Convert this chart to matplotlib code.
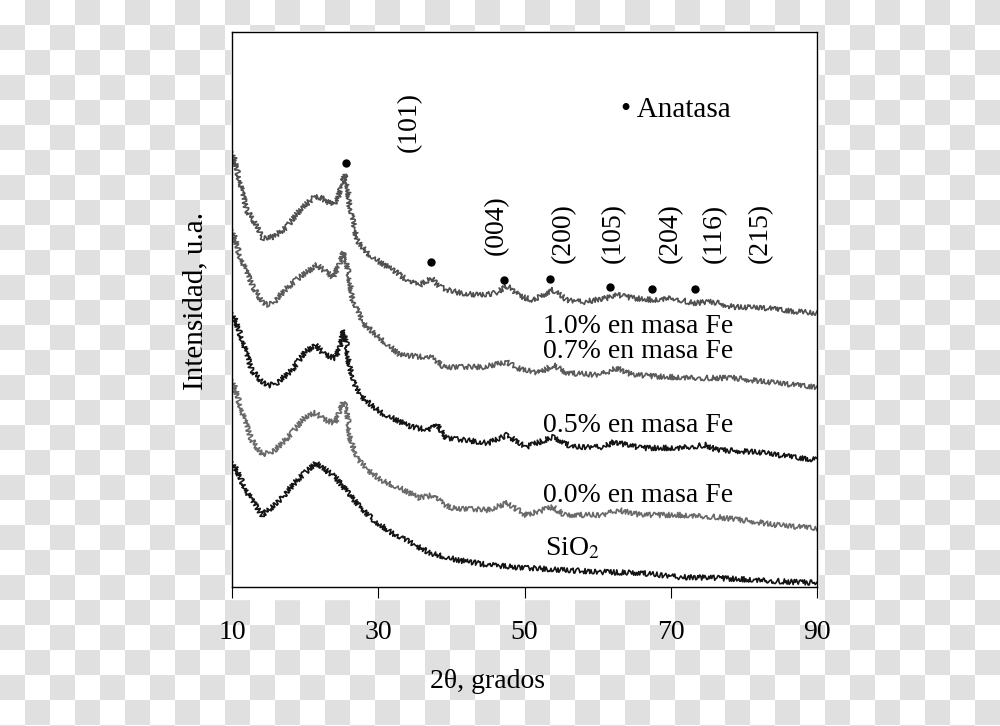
import numpy as np
import matplotlib.pyplot as plt
from matplotlib.patches import Rectangle

plt.rcParams['font.family'] = ['Liberation Serif', 'DejaVu Serif']
plt.rcParams['mathtext.fontset'] = 'stix'

fe10_x = [10.1, 12.0, 12.9, 14.2, 15.6, 17.5, 19.3, 21.1, 22.0, 23.8, 24.4, 25.0, 25.3, 25.7, 26.1,
          27.1, 28.5, 30.2, 32.0, 34.3, 35.7, 37.4, 38.2, 39.4, 41.2, 43.9, 46.2, 47.4, 48.2, 49.2,
          51.2, 53.9, 55.8, 58.0, 61.3, 62.7, 64.8, 67.6, 70.3, 73.0, 75.8, 78.5, 83.2, 87.7, 90.0]
fe10_y = [435, 377, 367, 349, 350, 360, 377, 389, 390, 382, 387, 404, 412, 407, 380,
          347, 334, 325, 317, 305, 302, 309, 301, 297, 294, 292, 294, 301, 299, 291,
          287, 297, 287, 285, 289, 292, 289, 287, 289, 284, 285, 280, 279, 275, 274]

fe07_x = [10.1, 11.1, 12.9, 14.2, 14.9, 15.6, 17.5, 19.3, 21.6, 23.8, 24.8, 25.2, 25.7, 26.5, 27.9,
          30.2, 33.0, 37.5, 38.9, 44.3, 47.6, 49.0, 52.1, 53.9, 55.8, 60.3, 62.6, 64.8, 69.5, 74.0,
          78.5, 83.2, 90.0]
fe07_y = [357, 330, 300, 284, 282, 284, 299, 310, 322, 310, 324, 335, 324, 287, 264,
          249, 232, 229, 220, 220, 225, 219, 214, 222, 214, 212, 219, 212, 210, 209,
          209, 205, 200]

fe05_x = [10.1, 11.4, 12.7, 14.1, 14.9, 16.3, 18.2, 20.0, 21.4, 22.7, 24.1, 24.8, 25.2, 25.6, 25.9,
          26.8, 28.2, 30.5, 34.5, 37.1, 37.9, 39.3, 45.0, 47.6, 50.2, 53.9, 56.5, 60.7, 62.2, 65.9,
          71.1, 74.8, 76.3, 81.7, 86.9, 90.0]
fe05_y = [274, 247, 217, 205, 201, 205, 217, 235, 242, 232, 229, 240, 257, 247, 227,
          200, 187, 174, 160, 157, 163, 149, 144, 152, 140, 150, 140, 140, 145, 139,
          139, 142, 137, 135, 130, 127]

fe00_x = [10.1, 11.4, 12.7, 14.1, 15.9, 18.2, 20.0, 21.4, 22.7, 24.1, 24.8, 25.2, 25.7, 26.1, 27.2,
          29.1, 30.4, 33.5, 35.6, 37.6, 38.2, 39.8, 45.0, 47.6, 50.2, 53.9, 55.4, 60.7, 62.8, 65.9,
          71.1, 76.3, 81.7, 84.3, 90.0]
fe00_y = [207, 174, 147, 132, 137, 154, 170, 174, 167, 164, 177, 185, 180, 150, 127,
          114, 107, 97, 89, 92, 87, 79, 77, 84, 72, 80, 72, 72, 77, 72,
          72, 70, 65, 62, 59]

sio2_x = [10.1, 12.1, 14.1, 16.2, 18.9, 21.5, 24.1, 26.7, 29.3, 31.9, 34.5, 37.1, 40.8, 45.0, 50.2,
          55.4, 60.7, 65.9, 71.1, 76.3, 81.7, 86.9, 90.0]
sio2_y = [125, 94, 72, 84, 107, 124, 110, 87, 67, 54, 44, 34, 27, 22, 19,
          17, 15, 14, 10, 9, 7, 5, 4]

# picos de anatasa
peak_x = [25.6, 37.2, 47.2, 53.5, 61.7, 67.4, 73.3]
peak_y = [424, 325, 307, 308, 300, 298, 298]
hkl = ['(101)', '(004)', '(200)', '(105)', '(204)', '(116)', '(215)']
hkl_x = [34.3, 46.2, 55.3, 62.1, 69.9, 75.9, 82.2]
hkl_y = [465, 362, 354, 354, 354, 354, 354]


def main():
    fig = plt.figure(figsize=(10, 7.26), dpi=100)

    # fondo a cuadros
    bg = fig.add_axes([0, 0, 1, 1])
    board = np.indices((30, 40)).sum(axis=0) % 2
    bg.imshow(board, cmap=plt.matplotlib.colors.ListedColormap(['white', '#e0e0e0']),
              extent=(0, 1000, 750, 0), interpolation='nearest', aspect='auto')
    bg.add_patch(Rectangle((231, 31), 587, 568, color='white'))
    bg.set_xlim(0, 1000)
    bg.set_ylim(726, 0)
    bg.axis('off')

    ax = fig.add_axes([0.232, 0.1915, 0.585, 0.7645])
    ax.set_facecolor('white')

    series = [(fe10_x, fe10_y, '#505050'), (fe07_x, fe07_y, '#5a5a5a'),
              (fe05_x, fe05_y, '#141414'), (fe00_x, fe00_y, '#6a6a6a'),
              (sio2_x, sio2_y, '#141414')]
    for xs, ys, c in series:
        line, = ax.plot(xs, ys, color=c, lw=1.2)
        line.set_sketch_params(scale=2.6, length=2.0, randomness=3)

    ax.plot(peak_x, peak_y, 'o', color='black', ms=5)
    for lab, x, y in zip(hkl, hkl_x, hkl_y):
        ax.text(x, y, lab, rotation=90, ha='center', va='center', fontsize=20)

    ax.text(63.2, 477, '• Anatasa', ha='left', va='center', fontsize=21)
    ax.text(52.5, 254, '1.0% en masa Fe', fontsize=20)
    ax.text(52.5, 229, '0.7% en masa Fe', fontsize=20)
    ax.text(52.5, 155, '0.5% en masa Fe', fontsize=20)
    ax.text(52.5, 85, '0.0% en masa Fe', fontsize=20)
    ax.text(52.8, 32, 'SiO$_2$', fontsize=20)

    ax.set_xlim(10, 90)
    ax.set_ylim(0, 555)
    ax.set_xticks([10, 30, 50, 70, 90])
    ax.set_yticks([])
    ax.tick_params(axis='x', direction='out', length=8, width=0.8, pad=16, labelsize=20)
    for s in ax.spines.values():
        s.set_linewidth(1.0)

    ax.set_xlabel('2θ, grados', fontsize=20)
    ax.xaxis.set_label_coords(0.436, -0.171)
    ax.xaxis.label.set_verticalalignment('center')
    ax.set_ylabel('Intensidad, u.a.', fontsize=21)
    ax.yaxis.set_label_coords(-0.063, 0.515)
    ax.yaxis.label.set_verticalalignment('center')

    fig.savefig('out.png', dpi=100)


if __name__ == "__main__":
    main()
